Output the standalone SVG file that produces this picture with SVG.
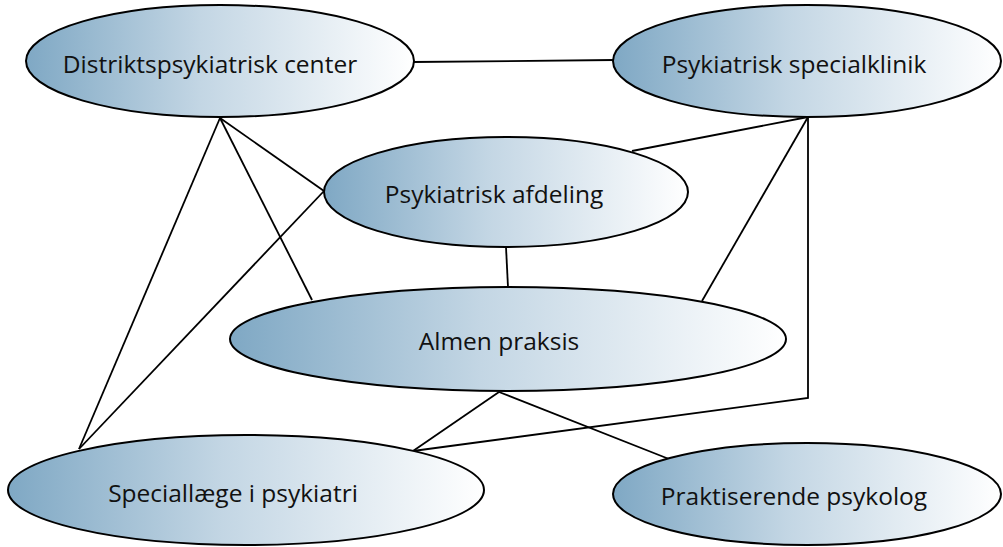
<svg xmlns="http://www.w3.org/2000/svg" width="1003" height="547" viewBox="0 0 1003 547">
  <defs>
    <linearGradient id="fillGrad" x1="0" y1="0" x2="1" y2="0">
      <stop offset="0" stop-color="#7fa8c4"/>
      <stop offset="0.45" stop-color="#c3d6e4"/>
      <stop offset="1" stop-color="#ffffff"/>
    </linearGradient>
  </defs>
  <style>
    rect.bg { fill: #ffffff; }
    .node ellipse { fill: url(#fillGrad); stroke: #000000; stroke-width: 2; }
    .node text { font-family: "Open Sans", "Liberation Sans", sans-serif; font-size: 24.5px; fill: #111111; text-anchor: middle; }
    #connectors line, #connectors polyline { stroke: #000000; stroke-width: 1.8; fill: none; }
  </style>
  <rect class="bg" x="0" y="0" width="1003" height="547"/>

  <g id="connectors">
    <line x1="413" y1="62" x2="614" y2="60"/>
    <line x1="220" y1="118" x2="79" y2="449"/>
    <line x1="220" y1="118" x2="312" y2="300"/>
    <line x1="220" y1="118" x2="324" y2="191"/>
    <line x1="324" y1="191" x2="79" y2="449"/>
    <line x1="632" y1="151" x2="808" y2="117"/>
    <line x1="808" y1="117" x2="702" y2="301"/>
    <polyline points="808,117 808,398 413,451"/>
    <line x1="506" y1="247" x2="508" y2="287"/>
    <line x1="499" y1="392" x2="413" y2="451"/>
    <line x1="499" y1="392" x2="669" y2="459"/>
  </g>

  <g id="node-distrikt" class="node">
    <ellipse cx="220" cy="61" rx="194" ry="56"/>
    <text x="210" y="73">Distriktspsykiatrisk center</text>
  </g>
  <g id="node-specialklinik" class="node">
    <ellipse cx="807" cy="61" rx="194" ry="56"/>
    <text x="794" y="73">Psykiatrisk specialklinik</text>
  </g>
  <g id="node-afdeling" class="node">
    <ellipse cx="506" cy="192" rx="182" ry="55"/>
    <text x="494" y="203">Psykiatrisk afdeling</text>
  </g>
  <g id="node-almen" class="node">
    <ellipse cx="508" cy="339" rx="278" ry="52"/>
    <text x="499" y="350">Almen praksis</text>
  </g>
  <g id="node-speciallaege" class="node">
    <ellipse cx="246" cy="490" rx="238" ry="55"/>
    <text x="233" y="502">Speciallæge i psykiatri</text>
  </g>
  <g id="node-psykolog" class="node">
    <ellipse cx="807" cy="494" rx="194" ry="51"/>
    <text x="794" y="505">Praktiserende psykolog</text>
  </g>
</svg>
